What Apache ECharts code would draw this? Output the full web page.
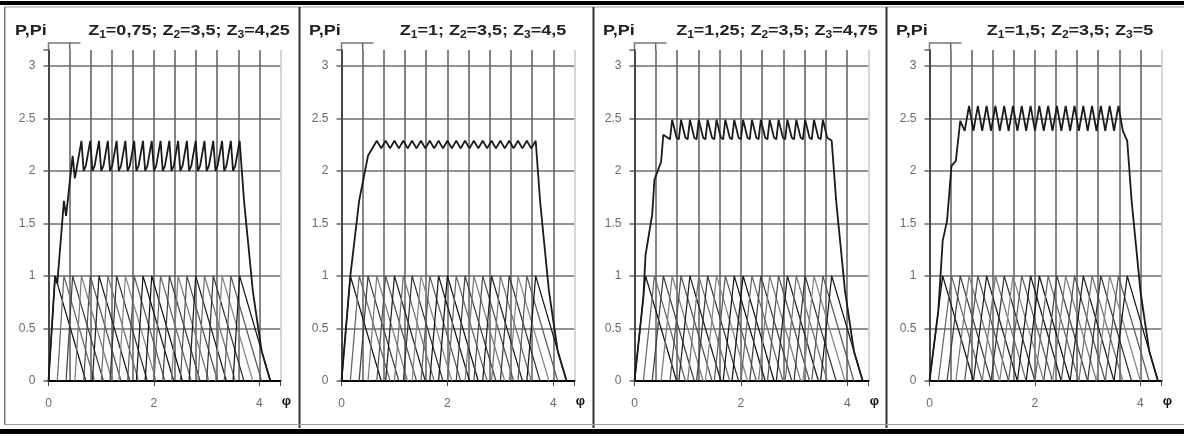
<!DOCTYPE html>
<html>
<head>
<meta charset="utf-8">
<script src="https://cdn.jsdelivr.net/npm/echarts@6/dist/echarts.min.js"></script>
<style>html,body{margin:0;padding:0;background:#fff}#c{width:1184px;height:436px}</style>
</head>
<body>
<div id="c"></div>
<script>
// ---------- DATA ----------
const panelZ1 = ['0,75', '1', '1,25', '1,5'];
const panelZ2 = ['3,5', '3,5', '3,5', '3,5'];
const panelZ3 = ['4,25', '4,5', '4,75', '5'];
const xTickLabels = [0, 2, 4];
const yTickLabels = [0, 0.5, 1, 1.5, 2, 2.5, 3];
const piLevels = [0, 1, 0];

const piStart = [0,0.167,0.333,0.5,0.667,0.833,1,1.167,1.333,1.5,1.667,1.833,2,2.167,2.333,2.5,2.667,2.833,3,3.167,3.333,3.5];

const piPeak1 = [0.125,0.292,0.458,0.625,0.792,0.958,1.125,1.292,1.458,1.625,1.792,1.958,2.125,2.292,2.458,2.625,2.792,2.958,3.125,3.292,3.458,3.625];
const piEnd1  = [0.708,0.875,1.042,1.208,1.375,1.542,1.708,1.875,2.042,2.208,2.375,2.542,2.708,2.875,3.042,3.208,3.375,3.542,3.708,3.875,4.042,4.208];
const piPeak2 = [0.167,0.333,0.5,0.667,0.833,1,1.167,1.333,1.5,1.667,1.833,2,2.167,2.333,2.5,2.667,2.833,3,3.167,3.333,3.5,3.667];
const piEnd2  = [0.75,0.917,1.083,1.25,1.417,1.583,1.75,1.917,2.083,2.25,2.417,2.583,2.75,2.917,3.083,3.25,3.417,3.583,3.75,3.917,4.083,4.25];
const piPeak3 = [0.208,0.375,0.542,0.708,0.875,1.042,1.208,1.375,1.542,1.708,1.875,2.042,2.208,2.375,2.542,2.708,2.875,3.042,3.208,3.375,3.542,3.708];
const piEnd3  = [0.792,0.958,1.125,1.292,1.458,1.625,1.792,1.958,2.125,2.292,2.458,2.625,2.792,2.958,3.125,3.292,3.458,3.625,3.792,3.958,4.125,4.292];
const piPeak4 = [0.25,0.417,0.583,0.75,0.917,1.083,1.25,1.417,1.583,1.75,1.917,2.083,2.25,2.417,2.583,2.75,2.917,3.083,3.25,3.417,3.583,3.75];
const piEnd4  = [0.833,1,1.167,1.333,1.5,1.667,1.833,2,2.167,2.333,2.5,2.667,2.833,3,3.167,3.333,3.5,3.667,3.833,4,4.167,4.333];

const P1 = [[0,0],[0.125,1],[0.167,0.929],[0.292,1.714],[0.333,1.571],[0.458,2.143],[0.5,1.929],[0.625,2.286],[0.667,2],[0.708,2.048],[0.792,2.286],[0.833,2],[0.875,2.048],[0.958,2.286],[1,2],[1.042,2.048],[1.125,2.286],[1.167,2],[1.208,2.048],[1.292,2.286],[1.333,2],[1.375,2.048],[1.458,2.286],[1.5,2],[1.542,2.048],[1.625,2.286],[1.667,2],[1.708,2.048],[1.792,2.286],[1.833,2],[1.875,2.048],[1.958,2.286],[2,2],[2.042,2.048],[2.125,2.286],[2.167,2],[2.208,2.048],[2.292,2.286],[2.333,2],[2.375,2.048],[2.458,2.286],[2.5,2],[2.542,2.048],[2.625,2.286],[2.667,2],[2.708,2.048],[2.792,2.286],[2.833,2],[2.875,2.048],[2.958,2.286],[3,2],[3.042,2.048],[3.125,2.286],[3.167,2],[3.208,2.048],[3.292,2.286],[3.333,2],[3.375,2.048],[3.458,2.286],[3.5,2],[3.542,2.048],[3.625,2.286],[3.667,2],[3.708,1.714],[3.792,1.286],[3.833,1.071],[3.875,0.857],[3.958,0.571],[4,0.429],[4.042,0.286],[4.125,0.143],[4.167,0.071],[4.208,0]];
const P2 = [[0,0],[0.167,1],[0.333,1.714],[0.5,2.143],[0.667,2.286],[0.75,2.214],[0.833,2.286],[0.917,2.214],[1,2.286],[1.083,2.214],[1.167,2.286],[1.25,2.214],[1.333,2.286],[1.417,2.214],[1.5,2.286],[1.583,2.214],[1.667,2.286],[1.75,2.214],[1.833,2.286],[1.917,2.214],[2,2.286],[2.083,2.214],[2.167,2.286],[2.25,2.214],[2.333,2.286],[2.417,2.214],[2.5,2.286],[2.583,2.214],[2.667,2.286],[2.75,2.214],[2.833,2.286],[2.917,2.214],[3,2.286],[3.083,2.214],[3.167,2.286],[3.25,2.214],[3.333,2.286],[3.417,2.214],[3.5,2.286],[3.583,2.214],[3.667,2.286],[3.75,1.714],[3.833,1.286],[3.917,0.857],[4,0.571],[4.083,0.286],[4.167,0.143],[4.25,0]];
const P3 = [[0,0],[0.167,0.8],[0.208,1.2],[0.333,1.586],[0.375,1.914],[0.5,2.086],[0.542,2.343],[0.667,2.3],[0.708,2.486],[0.792,2.314],[0.833,2.3],[0.875,2.486],[0.958,2.314],[1,2.3],[1.042,2.486],[1.125,2.314],[1.167,2.3],[1.208,2.486],[1.292,2.314],[1.333,2.3],[1.375,2.486],[1.458,2.314],[1.5,2.3],[1.542,2.486],[1.625,2.314],[1.667,2.3],[1.708,2.486],[1.792,2.314],[1.833,2.3],[1.875,2.486],[1.958,2.314],[2,2.3],[2.042,2.486],[2.125,2.314],[2.167,2.3],[2.208,2.486],[2.292,2.314],[2.333,2.3],[2.375,2.486],[2.458,2.314],[2.5,2.3],[2.542,2.486],[2.625,2.314],[2.667,2.3],[2.708,2.486],[2.792,2.314],[2.833,2.3],[2.875,2.486],[2.958,2.314],[3,2.3],[3.042,2.486],[3.125,2.314],[3.167,2.3],[3.208,2.486],[3.292,2.314],[3.333,2.3],[3.375,2.486],[3.458,2.314],[3.5,2.3],[3.542,2.486],[3.625,2.314],[3.667,2.3],[3.708,2.286],[3.792,1.714],[3.875,1.286],[3.958,0.857],[4.042,0.571],[4.125,0.286],[4.208,0.143],[4.292,0]];
const P4 = [[0,0],[0.167,0.667],[0.25,1.333],[0.333,1.524],[0.417,2.048],[0.5,2.095],[0.583,2.476],[0.667,2.381],[0.75,2.619],[0.833,2.381],[0.917,2.619],[1,2.381],[1.083,2.619],[1.167,2.381],[1.25,2.619],[1.333,2.381],[1.417,2.619],[1.5,2.381],[1.583,2.619],[1.667,2.381],[1.75,2.619],[1.833,2.381],[1.917,2.619],[2,2.381],[2.083,2.619],[2.167,2.381],[2.25,2.619],[2.333,2.381],[2.417,2.619],[2.5,2.381],[2.583,2.619],[2.667,2.381],[2.75,2.619],[2.833,2.381],[2.917,2.619],[3,2.381],[3.083,2.619],[3.167,2.381],[3.25,2.619],[3.333,2.381],[3.417,2.619],[3.5,2.381],[3.583,2.619],[3.667,2.381],[3.75,2.286],[3.833,1.714],[3.917,1.286],[4,0.857],[4.083,0.571],[4.167,0.286],[4.25,0.143],[4.333,0]];

// ---------- LAYOUT / STYLE ----------
const piPeaks = [piPeak1, piPeak2, piPeak3, piPeak4];
const piEnds = [piEnd1, piEnd2, piEnd3, piEnd4];
const Ptotals = [P1, P2, P3, P4];
const gridLeft = [48.5, 341.5, 634.5, 929.5];
const gridWidth = [232, 233, 234, 232];
const gridTop = 50, gridHeight = 331;
const panelLeft = [5, 299, 593, 886];
const pal = ['#111111', '#666666', '#404040', '#7a7a7a', '#505050', '#1e1e1e', '#707070', '#363636', '#858585', '#5a5a5a', '#161616'];
const FONT = '"Liberation Sans", Arial, sans-serif';

const grids = [], xAxes = [], yAxes = [], series = [], graphics = [];
for (let i = 0; i < 4; i++) {
  grids.push({left: gridLeft[i], top: gridTop, width: gridWidth[i], height: gridHeight});
  xAxes.push({
    type: 'value', gridIndex: i, min: 0, max: 4.4, interval: 2,
    axisLine: {show: true, onZero: false, lineStyle: {color: '#000', width: 2}},
    axisTick: {show: true, length: 5, lineStyle: {color: '#444'}},
    minorTick: {show: false, splitNumber: 5},
    axisLabel: {
      margin: 17, color: '#6a6a6a', fontSize: 12, fontFamily: FONT,
      formatter: v => (xTickLabels.some(t => Math.abs(t - v) < 1e-6) ? String(Math.round(v)) : '')
    },
    splitLine: {show: true, lineStyle: {color: ['#5e5e5e', '#5e5e5e', '#5e5e5e', '#c8c8c8'], width: 1.5}},
    minorSplitLine: {show: true, lineStyle: {color: '#5e5e5e', width: 1.5}}
  });
  yAxes.push({
    type: 'value', gridIndex: i, min: 0, max: 3.15, interval: 0.5,
    axisLine: {show: true, onZero: false, lineStyle: {color: '#333', width: 1.5}},
    axisTick: {show: true, length: 5, lineStyle: {color: '#666', width: 1.5}},
    axisLabel: {
      margin: 13, color: '#6a6a6a', fontSize: 12, fontFamily: FONT,
      formatter: v => (yTickLabels.some(t => Math.abs(t - v) < 1e-6) ? String(v) : '')
    },
    splitLine: {show: true, showMaxLine: false, lineStyle: {color: '#6e6e6e', width: 1.5}}
  });
  const peaks = piPeaks[i], ends = piEnds[i];
  for (let j = 0; j < piStart.length; j++) {
    series.push({
      type: 'line', xAxisIndex: i, yAxisIndex: i, symbol: 'none', silent: true, z: 2,
      data: [[piStart[j], piLevels[0]], [peaks[j], piLevels[1]], [ends[j], piLevels[2]]],
      lineStyle: {width: 1.25, color: pal[j % pal.length]}
    });
  }
  series.push({
    type: 'line', xAxisIndex: i, yAxisIndex: i, symbol: 'none', silent: true, z: 3,
    data: Ptotals[i], lineStyle: {width: 1.8, color: '#1a1a1a'}
  });

  // titles
  graphics.push({
    type: 'text', x: panelLeft[i] + 10, y: 31, scaleX: 1.2,
    style: {text: 'P,Pi', fontFamily: FONT, fontSize: 15, fontWeight: 'bold', fill: '#222',
            align: 'left', verticalAlign: 'middle', textAlign: 'left', textVerticalAlign: 'middle'}
  });
  graphics.push({
    type: 'text', x: panelLeft[i] + 184, y: 31, scaleX: 1.2,
    style: {
      text: '{t|Z}{s|1}{t|=' + panelZ1[i] + '; Z}{s|2}{t|=' + panelZ2[i] + '; Z}{s|3}{t|=' + panelZ3[i] + '}',
      fontFamily: FONT, fontSize: 15, fontWeight: 'bold', fill: '#222',
      align: 'center', verticalAlign: 'middle', textAlign: 'center', textVerticalAlign: 'middle',
      rich: {
        t: {fontFamily: FONT, fontSize: 15, fontWeight: 'bold', fill: '#222', color: '#222', lineHeight: 18},
        s: {fontFamily: FONT, fontSize: 10, fontWeight: 'bold', fill: '#222', color: '#222', lineHeight: 11, verticalAlign: 'bottom'}
      }
    }
  });
  // phi axis name
  graphics.push({
    type: 'text', x: gridLeft[i] + gridWidth[i] + 6, y: 401,
    style: {text: 'φ', fontFamily: FONT, fontSize: 13, fontWeight: 'bold', fill: '#111',
            align: 'center', verticalAlign: 'middle', textAlign: 'center', textVerticalAlign: 'middle'}
  });
  // small frame at top-left of plot
  graphics.push({
    type: 'polyline', silent: true,
    shape: {points: [[gridLeft[i], gridTop], [gridLeft[i], 43], [gridLeft[i] + 32, 43]]},
    style: {stroke: '#777', lineWidth: 1.5, fill: null}
  });
  graphics.push({
    type: 'line', silent: true,
    shape: {x1: gridLeft[i] + 21.2, y1: gridTop, x2: gridLeft[i] + 21.2, y2: 43},
    style: {stroke: '#666', lineWidth: 1.5}
  });
}

// table frame
graphics.push({type: 'rect', silent: true, shape: {x: 0, y: 1, width: 1184, height: 4}, style: {fill: '#000'}});
graphics.push({type: 'rect', silent: true, shape: {x: 4, y: 6.5, width: 1180, height: 1}, style: {fill: '#999'}});
graphics.push({type: 'rect', silent: true, shape: {x: 4, y: 7, width: 1.5, height: 418}, style: {fill: '#777'}});
[298.5, 592.5, 885.5].forEach(x => graphics.push({type: 'rect', silent: true, shape: {x: x, y: 7, width: 2, height: 421}, style: {fill: '#333'}}));
graphics.push({type: 'rect', silent: true, shape: {x: 4, y: 424, width: 1180, height: 1}, style: {fill: '#999'}});
graphics.push({type: 'rect', silent: true, shape: {x: 0, y: 429, width: 1184, height: 5}, style: {fill: '#000'}});

const chart = echarts.init(document.getElementById('c'), null, {renderer: 'canvas'});
chart.setOption({
  animation: false,
  backgroundColor: '#fff',
  grid: grids, xAxis: xAxes, yAxis: yAxes, series: series,
  graphic: {elements: graphics}
});
</script>
</body>
</html>
